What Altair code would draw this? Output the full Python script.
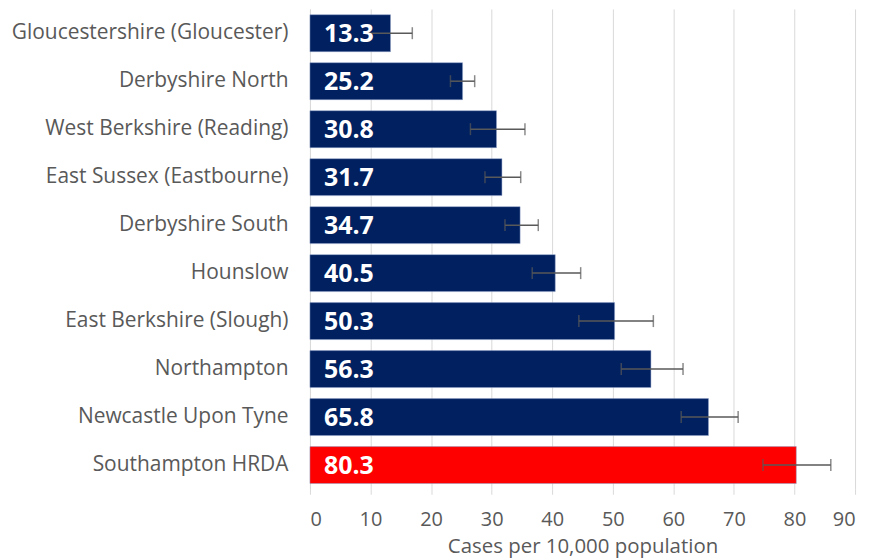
import altair as alt
import pandas as pd

areas = [
    "Gloucestershire (Gloucester)",
    "Derbyshire North",
    "West Berkshire (Reading)",
    "East Sussex (Eastbourne)",
    "Derbyshire South",
    "Hounslow",
    "East Berkshire (Slough)",
    "Northampton",
    "Newcastle Upon Tyne",
    "Southampton HRDA",
]
rates = [13.3, 25.2, 30.8, 31.7, 34.7, 40.5, 50.3, 56.3, 65.8, 80.3]
ci_low = [9.7, 23.2, 26.5, 28.9, 32.2, 36.7, 44.4, 51.4, 61.3, 74.8]
ci_high = [16.9, 27.2, 35.5, 34.8, 37.7, 44.7, 56.7, 61.6, 70.7, 86.0]
highlight = [False] * 9 + [True]

df = pd.DataFrame({
    "area": areas,
    "rate": rates,
    "lo": ci_low,
    "hi": ci_high,
    "hl": highlight,
    "label": [f"{v:.1f}" for v in rates],
})

FONT = "Open Sans"

y = alt.Y(
    "area:N",
    sort=areas,
    title=None,
    scale=alt.Scale(paddingInner=0.23, paddingOuter=0.12),
    axis=alt.Axis(
        labelFont=FONT, labelFontSize=21, labelColor="#595959",
        labelPadding=22, ticks=False, domain=True, domainColor="#d9d9d9",
        labelLimit=400,
    ),
)

x = alt.X(
    "rate:Q",
    title="Cases per 10,000 population",
    scale=alt.Scale(domain=[0, 90], nice=False),
    axis=alt.Axis(
        values=list(range(0, 91, 10)), grid=True, gridColor="#d9d9d9",
        domain=False, ticks=True, tickColor="#d9d9d9", tickSize=5,
        labelFont=FONT, labelFontSize=20, labelColor="#595959", labelPadding=15,
        titleFont=FONT, titleFontSize=20.5, titleColor="#595959",
        titleFontWeight="normal", titlePadding=7,
    ),
)

base = alt.Chart(df)

bars = base.mark_bar(stroke="#8da0c8", strokeWidth=0.5).encode(
    x=x,
    y=y,
    color=alt.Color(
        "hl:N",
        scale=alt.Scale(domain=[False, True], range=["#002060", "#ff0000"]),
        legend=None,
    ),
)

err = base.mark_rule(color="#595959", strokeWidth=1.5).encode(
    x="lo:Q", x2="hi:Q", y=alt.Y("area:N", sort=areas)
)
cap_lo = base.mark_tick(color="#595959", thickness=1.5, size=12, orient="vertical").encode(
    x="lo:Q", y=alt.Y("area:N", sort=areas)
)
cap_hi = base.mark_tick(color="#595959", thickness=1.5, size=12, orient="vertical").encode(
    x="hi:Q", y=alt.Y("area:N", sort=areas)
)

labels = base.mark_text(
    align="left", baseline="middle", dx=14, dy=1, color="white",
    font=FONT, fontSize=25, fontWeight="bold",
).encode(
    x=alt.datum(0),
    y=alt.Y("area:N", sort=areas),
    text="label:N",
)

chart = (
    alt.layer(bars, err, cap_lo, cap_hi, labels)
    .properties(
        width=547, height=482,
        padding={"left": 303, "top": 0, "right": 10, "bottom": 70},
        autosize=alt.AutoSizeParams(type="none"),
    )
    .configure_view(stroke=None)
)

chart.save("out.html", embed_options={"renderer": "svg", "actions": False})
